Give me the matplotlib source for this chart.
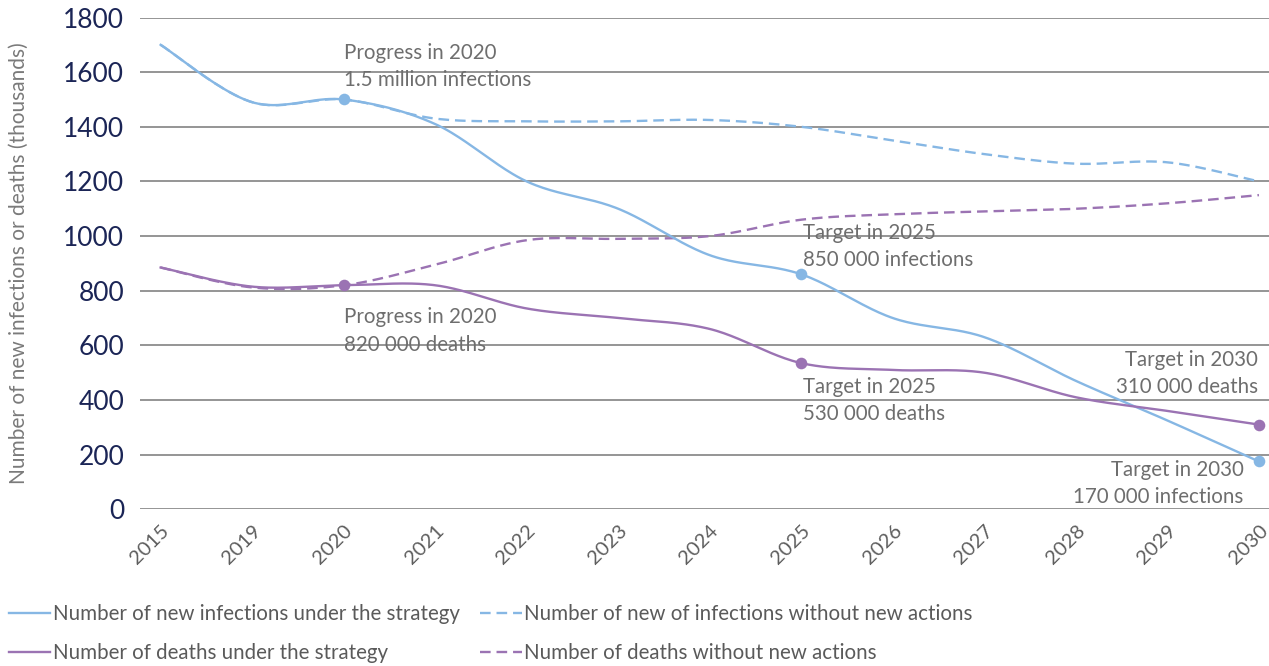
import numpy as np
import matplotlib
matplotlib.use("Agg")
import matplotlib.pyplot as plt

plt.rcParams['font.family'] = ['Lato', 'DejaVu Sans']

years = ['2015', '2019', '2020', '2021', '2022', '2023', '2024',
         '2025', '2026', '2027', '2028', '2029', '2030']

# thousands
infections_strategy = [1700, 1490, 1500, 1410, 1200, 1100, 930,
                       860, 700, 630, 470, 325, 175]
infections_no_action = [1700, 1490, 1500, 1430, 1420, 1420, 1425,
                        1400, 1350, 1300, 1265, 1270, 1200]
deaths_strategy = [885, 815, 820, 820, 735, 700, 660,
                   535, 510, 500, 410, 360, 310]
deaths_no_action = [885, 812, 820, 895, 985, 990, 1000,
                    1060, 1080, 1090, 1100, 1120, 1150]

marker_idx = [2, 7, 12]

blue = '#86B7E4'
purple = '#9B73B3'
grey_txt = '#6E6E6E'


def smooth(y, n=40):
    # bezier smoothing between the points, like a spreadsheet "smoothed line"
    y = np.asarray(y, dtype=float)
    x = np.arange(len(y), dtype=float)
    xs, ys = [], []
    for i in range(len(y) - 1):
        i0 = max(i - 1, 0)
        i3 = min(i + 2, len(y) - 1)
        t = np.linspace(0, 1, n)
        for arr, out in ((x, xs), (y, ys)):
            p0, p1, p2, p3 = arr[i0], arr[i], arr[i + 1], arr[i3]
            c1 = p1 + (p2 - p0) / 6
            c2 = p2 - (p3 - p1) / 6
            seg = ((1 - t) ** 3 * p1 + 3 * (1 - t) ** 2 * t * c1
                   + 3 * (1 - t) * t ** 2 * c2 + t ** 3 * p2)
            out.extend(seg)
    return np.array(xs), np.array(ys)


fig = plt.figure(figsize=(12.69, 6.66), dpi=100)
ax = fig.add_axes([0.110, 0.2353, 0.890, 0.7384])

lw = 1.7
dash = (4.5, 2.5)

x, y = smooth(infections_no_action)
ax.plot(x, y, color=blue, lw=lw, dashes=dash,
        label='Number of new of infections without new actions')
x, y = smooth(deaths_no_action)
ax.plot(x, y, color=purple, lw=lw, dashes=dash,
        label='Number of deaths without new actions')
x, y = smooth(infections_strategy)
ax.plot(x, y, color=blue, lw=lw, label='Number of new infections under the strategy')
x, y = smooth(deaths_strategy)
ax.plot(x, y, color=purple, lw=lw, label='Number of deaths under the strategy')

ax.scatter(marker_idx, [infections_strategy[i] for i in marker_idx],
           s=70, color=blue, zorder=5, linewidths=0)
ax.scatter(marker_idx, [deaths_strategy[i] for i in marker_idx],
           s=70, color=purple, zorder=5, linewidths=0)

# annotations
notes = [
    (2, infections_strategy[2], 'Progress in 2020\n1.5 million infections', (0, 24), 'left'),
    (2, deaths_strategy[2], 'Progress in 2020\n820 000 deaths', (0, -33), 'left'),
    (7, infections_strategy[7], 'Target in 2025\n850 000 infections', (1, 20), 'left'),
    (7, deaths_strategy[7], 'Target in 2025\n530 000 deaths', (1, -27), 'left'),
    (12, deaths_strategy[12], 'Target in 2030\n310 000 deaths', (-1, 37), 'right'),
    (12, infections_strategy[12], 'Target in 2030\n170 000 infections', (-11, -16), 'right'),
]
for xi, yi, txt, off, ha in notes:
    ax.annotate(txt, xy=(xi, yi), xytext=off, textcoords='offset points',
                ha=ha, va='center', fontsize=14.8, color=grey_txt,
                linespacing=1.45)

ax.set_xlim(-0.23, 12.11)
ax.set_ylim(0, 1800)
ax.set_yticks(range(0, 1801, 200))
ax.set_xticks(range(len(years)))
ax.set_xticklabels(years, rotation=45, ha='right', va='top',
                   rotation_mode='anchor', fontsize=14.5, color='#5E5E5E')
ax.tick_params(axis='y', labelsize=19, colors='#1B2556', length=0, pad=11)
ax.tick_params(axis='x', length=0, pad=9)
ax.grid(axis='y', color='#8C8C8C', lw=1.3)
ax.set_axisbelow(True)
for s in ax.spines.values():
    s.set_visible(False)

ax.set_ylabel('Number of new infections or deaths (thousands)',
              fontsize=15, color='#7A7A7A', labelpad=25)

handles, labels = ax.get_legend_handles_labels()
order = [2, 3, 0, 1]
fig.legend([handles[i] for i in order], [labels[i] for i in order],
           loc='lower left', bbox_to_anchor=(-0.004, -0.017), ncol=2,
           frameon=False, fontsize=14.8, labelcolor='#5A5A5A',
           handlelength=2.0, handletextpad=0.12, columnspacing=1.0,
           labelspacing=0.9, borderaxespad=0.3)

fig.savefig('out.png', dpi=100)
